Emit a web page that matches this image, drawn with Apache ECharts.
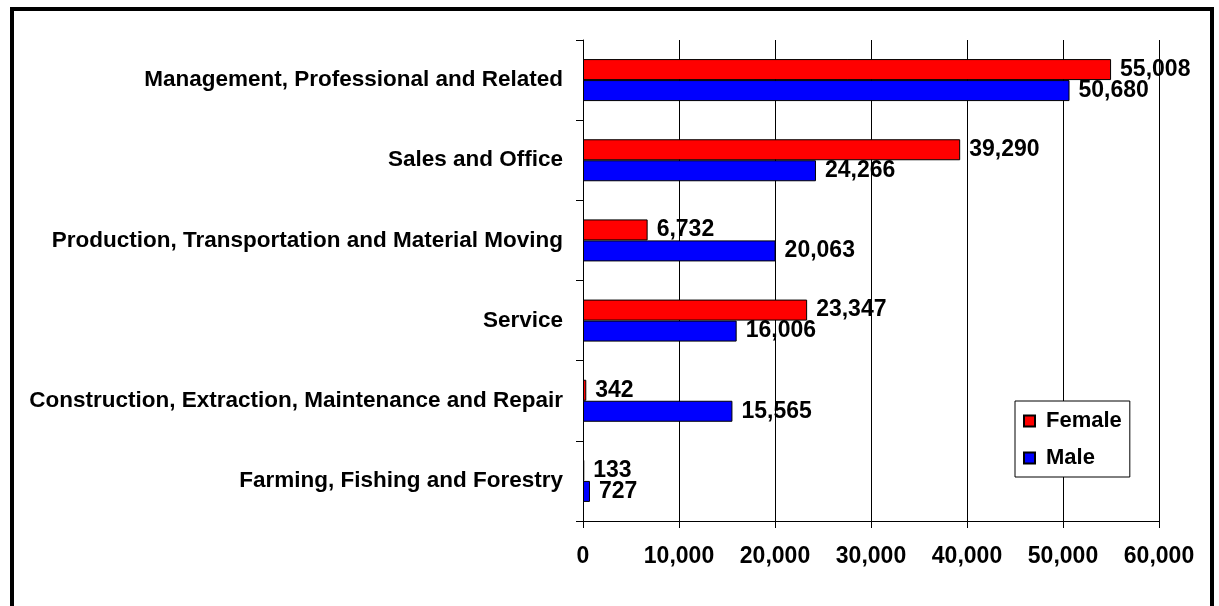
<!DOCTYPE html>
<html>
<head>
<meta charset="utf-8">
<title>Occupations by sex</title>
<script src="https://cdn.jsdelivr.net/npm/echarts@6/dist/echarts.min.js"></script>
<style>
  html, body { margin: 0; padding: 0; background: #fff; }
  #chart { width: 1219px; height: 606px; }
</style>
</head>
<body>
<div id="chart"></div>
<script>
// categories, top to bottom
var occupations = [
  'Management, Professional and Related',
  'Sales and Office',
  'Production, Transportation and Material Moving',
  'Service',
  'Construction, Extraction, Maintenance and Repair',
  'Farming, Fishing and Forestry'
]
var femaleValues = [55008, 39290, 6732, 23347, 342, 133]
var maleValues = [50680, 24266, 20063, 16006, 15565, 727]
var seriesNames = ['Female', 'Male']

var FONT = '"Liberation Sans", Arial, sans-serif'

function fmt(v) {
  return v.toLocaleString('en-US')
}

var chart = echarts.init(document.getElementById('chart'))

chart.setOption({
  animation: false,
  backgroundColor: '#fff',
  textStyle: { fontFamily: FONT },
  graphic: [{
    type: 'rect',
    shape: { x: 12, y: 9, width: 1200, height: 700 },
    style: { fill: 'none', stroke: '#000', lineWidth: 4 },
    silent: true
  }],
  grid: {
    left: 583,
    right: 60,
    top: 40,
    bottom: 85,
    containLabel: false
  },
  legend: {
    data: seriesNames,
    orient: 'vertical',
    left: 1015,
    top: 401,
    icon: 'rect',
    itemWidth: 11,
    itemHeight: 11,
    itemGap: 15,
    padding: [9, 8, 8, 8],
    backgroundColor: '#fff',
    borderColor: '#000',
    borderWidth: 1,
    textStyle: {
      fontFamily: FONT,
      fontSize: 22,
      fontWeight: 'bold',
      color: '#000',
      padding: [0, 0, 0, 6]
    }
  },
  xAxis: {
    type: 'value',
    min: 0,
    max: 60000,
    interval: 10000,
    axisLine: { show: true, lineStyle: { color: '#000', width: 1 } },
    axisTick: { show: true, length: 7, lineStyle: { color: '#000' } },
    splitLine: { show: true, lineStyle: { color: '#000', width: 1 } },
    axisLabel: {
      margin: 24,
      fontFamily: FONT,
      fontSize: 23,
      fontWeight: 'bold',
      color: '#000',
      formatter: function (v) { return fmt(v) }
    }
  },
  yAxis: {
    type: 'category',
    inverse: true,
    data: occupations,
    axisLine: { show: true, lineStyle: { color: '#000', width: 1 } },
    axisTick: { show: true, length: 7, lineStyle: { color: '#000' } },
    axisLabel: {
      margin: 20,
      fontFamily: FONT,
      fontSize: 22.5,
      fontWeight: 'bold',
      color: '#000'
    }
  },
  series: [{
    name: 'Female',
    type: 'bar',
    data: femaleValues,
    barWidth: 21,
    barGap: '0%',
    itemStyle: { color: '#ff0000', borderColor: '#000', borderWidth: 1 },
    label: {
      show: true,
      position: 'right',
      distance: 9,
      fontFamily: FONT,
      fontSize: 23,
      fontWeight: 'bold',
      color: '#000',
      formatter: function (p) { return fmt(p.value) }
    }
  },
  {
    name: 'Male',
    type: 'bar',
    data: maleValues,
    barWidth: 21,
    barGap: '0%',
    itemStyle: { color: '#0000ff', borderColor: '#000', borderWidth: 1 },
    label: {
      show: true,
      position: 'right',
      distance: 9,
      fontFamily: FONT,
      fontSize: 23,
      fontWeight: 'bold',
      color: '#000',
      formatter: function (p) { return fmt(p.value) }
    }
  }]
})
</script>
</body>
</html>
